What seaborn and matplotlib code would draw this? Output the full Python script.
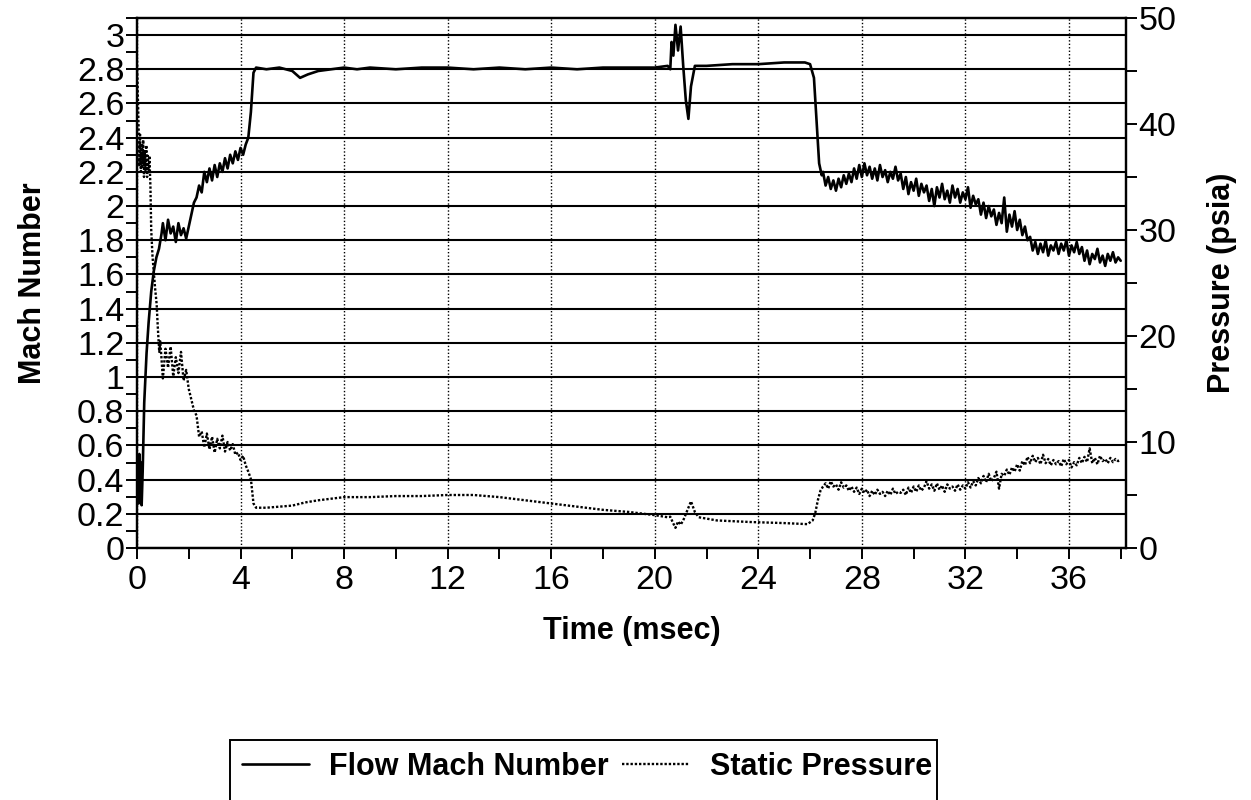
import numpy as np
import pandas as pd
import matplotlib
matplotlib.use("Agg")
import matplotlib.pyplot as plt
from matplotlib.ticker import MultipleLocator, FuncFormatter
from matplotlib.patches import Rectangle
import seaborn as sns

# ---------------- data ----------------
# Flow Mach number
mach_t_start = [0.0, 0.03, 0.06, 0.09, 0.12, 0.15, 0.18, 0.22, 0.28, 0.37,
                0.45, 0.55, 0.65, 0.75, 0.85, 0.95]
mach_v_start = [0.30, 0.52, 0.26, 0.55, 0.40, 0.50, 0.25, 0.45, 0.85, 1.14,
                1.32, 1.50, 1.62, 1.70, 1.75, 1.84]

mach_t_rise = [round(1.0 + 0.1 * i, 2) for i in range(33)]  # 1.0 .. 4.2 ms sampling
mach_v_rise = [1.90, 1.80, 1.92, 1.84, 1.88, 1.79, 1.90, 1.83, 1.87, 1.81,
               1.88, 1.95, 2.02, 2.05, 2.12, 2.08, 2.20, 2.14, 2.22, 2.15,
               2.24, 2.17, 2.25, 2.20, 2.28, 2.22, 2.30, 2.25, 2.32, 2.27,
               2.34, 2.30, 2.36]

mach_t_mid = [4.3, 4.4, 4.5, 4.6, 5.0, 5.5, 6.0, 6.3, 6.6, 7.0, 7.5, 8.0, 8.5,
              9.0, 10.0, 11.0, 12.0, 13.0, 14.0, 15.0, 16.0, 17.0, 18.0, 19.0,
              20.0, 20.5, 20.6, 20.65, 20.72, 20.8, 20.9, 21.0, 21.1, 21.2,
              21.3, 21.4, 21.55, 22.0, 23.0, 24.0, 25.0, 25.8, 26.0, 26.15,
              26.25, 26.35, 26.45]
mach_v_mid = [2.40, 2.55, 2.78, 2.81, 2.80, 2.81, 2.79, 2.75, 2.77, 2.79, 2.80,
              2.81, 2.80, 2.81, 2.80, 2.81, 2.81, 2.80, 2.81, 2.80, 2.81, 2.80,
              2.81, 2.81, 2.81, 2.82, 2.80, 2.96, 2.88, 3.06, 2.91, 3.05, 2.82,
              2.62, 2.51, 2.70, 2.82, 2.82, 2.83, 2.83, 2.84, 2.84, 2.83, 2.75,
              2.50, 2.25, 2.18]

mach_t_late = [round(26.5 + 0.1 * i, 2) for i in range(116)]  # 26.5 .. 38.0 ms sampling
mach_v_late = [2.20, 2.12, 2.17, 2.10, 2.15, 2.09, 2.16, 2.11, 2.18, 2.13,
               2.19, 2.14, 2.22, 2.16, 2.24, 2.17, 2.25, 2.18, 2.23, 2.16,
               2.22, 2.15, 2.24, 2.17, 2.21, 2.14, 2.20, 2.16, 2.23, 2.15,
               2.19, 2.10, 2.17, 2.07, 2.14, 2.09, 2.16, 2.06, 2.13, 2.08,
               2.12, 2.03, 2.10, 2.00, 2.11, 2.05, 2.13, 2.04, 2.09, 2.02,
               2.12, 2.05, 2.10, 2.02, 2.08, 2.04, 2.11, 1.99, 2.06, 2.01,
               2.04, 1.95, 2.02, 1.93, 2.00, 1.94, 1.98, 1.89, 1.96, 1.90,
               2.05, 1.85, 1.95, 1.88, 1.97, 1.86, 1.92, 1.83, 1.88, 1.80,
               1.82, 1.74, 1.79, 1.72, 1.78, 1.73, 1.80, 1.71, 1.77, 1.74,
               1.79, 1.72, 1.78, 1.74, 1.80, 1.71, 1.77, 1.73, 1.79, 1.72,
               1.76, 1.68, 1.74, 1.66, 1.72, 1.69, 1.75, 1.67, 1.71, 1.65,
               1.72, 1.68, 1.73, 1.67, 1.70, 1.68]

# Static pressure (psia)
pres_t_start = [0.0, 0.03, 0.06, 0.09, 0.12, 0.15, 0.18, 0.21, 0.24, 0.27,
                0.30, 0.33, 0.36, 0.39, 0.42, 0.45, 0.48, 0.52, 0.55, 0.60,
                0.65, 0.70, 0.76, 0.80, 0.86]
pres_v_start = [46.0, 43.0, 40.0, 36.0, 39.0, 35.5, 38.0, 36.0, 38.5, 35.0,
                37.5, 35.5, 38.0, 35.0, 37.0, 35.5, 37.0, 34.0, 30.0, 27.5,
                26.0, 24.5, 23.0, 21.0, 18.5]

pres_t_fall = [round(0.9 + 0.1 * i, 2) for i in range(35)]  # 0.9 .. 4.3 ms sampling
pres_v_fall = [19.5, 16.0, 18.8, 17.0, 19.0, 16.2, 18.0, 16.5, 18.5, 15.8,
               16.8, 15.0, 14.0, 13.0, 12.5, 10.5, 11.0, 9.5, 10.8, 9.3,
               10.5, 9.0, 10.3, 9.4, 10.6, 9.1, 10.0, 9.2, 9.8, 8.8,
               9.0, 8.3, 8.7, 7.8, 7.2]

pres_t_mid = [4.4, 4.5, 4.6, 5.0, 5.5, 6.0, 6.5, 7.0, 8.0, 9.0, 10.0, 11.0,
              12.0, 13.0, 14.0, 15.0, 16.0, 17.0, 18.0, 19.0, 20.0, 20.5,
              20.6, 20.7, 20.8, 20.9, 21.0, 21.1, 21.2, 21.4, 21.55, 21.7,
              22.4, 23.7, 25.0, 25.9, 26.1, 26.2, 26.3, 26.4, 26.5]
pres_v_mid = [6.5, 4.2, 3.8, 3.8, 3.9, 4.0, 4.3, 4.5, 4.8, 4.8, 4.9, 4.9,
              5.0, 5.0, 4.8, 4.5, 4.2, 3.9, 3.6, 3.4, 3.1, 2.9,
              2.95, 2.4, 1.9, 2.5, 2.2, 2.6, 3.2, 4.4, 3.4, 2.9,
              2.6, 2.45, 2.35, 2.25, 2.6, 3.3, 4.5, 5.4, 5.8]

pres_t_late = [round(26.6 + 0.1 * i, 2) for i in range(115)]  # 26.6 .. 38.0 ms sampling
pres_v_late = [6.1, 5.6, 6.3, 5.8, 6.0, 5.5, 6.2, 5.7, 5.9, 5.4,
               5.8, 5.3, 5.7, 5.1, 5.6, 5.2, 5.5, 4.9, 5.4, 5.0,
               5.5, 5.1, 5.3, 4.9, 5.4, 5.0, 5.6, 5.1, 5.3, 5.2,
               5.5, 5.0, 5.7, 5.2, 5.8, 5.3, 5.9, 5.4, 5.7, 6.3,
               5.6, 6.0, 5.4, 6.1, 5.5, 5.9, 5.3, 6.0, 5.6, 5.8,
               5.4, 6.0, 5.5, 5.9, 5.6, 6.2, 5.7, 6.3, 5.9, 6.6,
               6.1, 6.8, 6.2, 7.0, 6.3, 6.6, 7.2, 5.6, 7.0, 6.8,
               7.4, 6.9, 7.6, 7.2, 7.9, 7.3, 8.2, 7.8, 8.6, 8.0,
               8.7, 8.1, 8.5, 7.9, 8.8, 8.0, 8.4, 7.8, 8.3, 7.9,
               8.2, 7.7, 8.4, 7.9, 8.3, 7.6, 8.1, 7.8, 8.5, 8.0,
               8.6, 8.1, 9.4, 8.0, 8.5, 7.9, 8.7, 8.2, 8.4, 8.0,
               8.5, 8.1, 8.4, 8.2, 8.3]

mach_ticks = [0, 0.2, 0.4, 0.6, 0.8, 1, 1.2, 1.4, 1.6, 1.8, 2, 2.2, 2.4, 2.6, 2.8, 3]
pres_ticks = [0, 10, 20, 30, 40, 50]
time_ticks = [0, 4, 8, 12, 16, 20, 24, 28, 32, 36]

mach_df = pd.DataFrame({
    "t": mach_t_start + mach_t_rise + mach_t_mid + mach_t_late,
    "v": mach_v_start + mach_v_rise + mach_v_mid + mach_v_late})
pres_df = pd.DataFrame({
    "t": pres_t_start + pres_t_fall + pres_t_mid + pres_t_late,
    "v": pres_v_start + pres_v_fall + pres_v_mid + pres_v_late})

# ---------------- plotting ----------------
sns.set_theme(style="white")
plt.rcParams["font.family"] = ["Liberation Sans", "DejaVu Sans"]
plt.rcParams["text.color"] = "black"
plt.rcParams["axes.labelcolor"] = "black"

fig = plt.figure(figsize=(12.51, 8), dpi=100)
ax = fig.add_axes([0.1095, 0.315, 0.7905, 0.6625])
ax2 = ax.twinx()

sns.lineplot(data=mach_df, x="t", y="v", ax=ax, color="black", lw=1.9,
             sort=False, estimator=None, label="Flow Mach Number", legend=False)
sns.lineplot(data=pres_df, x="t", y="v", ax=ax2, color="black", lw=1.7,
             sort=False, estimator=None, label="Static Pressure", legend=False)
ax2.lines[0].set_linestyle((0, (1, 0.8)))

ax.set_xlim(0, 38.2)
ax.set_ylim(0, 3.1)
ax2.set_ylim(0, 50)

ax.set_xticks(time_ticks)
ax.xaxis.set_minor_locator(MultipleLocator(2))
ax.set_yticks(mach_ticks)
ax.yaxis.set_minor_locator(MultipleLocator(0.1))
ax.yaxis.set_major_formatter(FuncFormatter(lambda v, p: f"{v:g}"))
ax2.set_yticks(pres_ticks)
ax2.yaxis.set_minor_locator(MultipleLocator(5))

for a in (ax, ax2):
    for s in a.spines.values():
        s.set_color("black")
        s.set_linewidth(1.6)
ax.tick_params(axis="both", which="both", direction="out", length=8, width=1.4,
               color="black", labelsize=24.5, labelcolor="black")
ax.tick_params(axis="y", which="both", left=True, pad=1)
ax.tick_params(axis="x", which="both", bottom=True, pad=4)
ax2.tick_params(axis="y", which="both", right=True, direction="out", length=8,
                width=1.4, color="black", labelsize=24.5, labelcolor="black", pad=1)

ax.grid(False)
ax2.grid(False)
for yv in mach_ticks:
    ax.axhline(yv, color="black", lw=1.5, zorder=0.5)
ax.xaxis.grid(True, which="major", color="black", lw=1.0, ls=(0, (1, 1.5)))

ax.set_xlabel("Time (msec)", fontsize=22, fontweight="bold", labelpad=15,
              color="black")
ax.set_ylabel("Mach Number", fontsize=22, fontweight="bold", labelpad=21,
              color="black")
ax2.set_ylabel("Pressure (psia)", fontsize=22, fontweight="bold", labelpad=22,
               color="black")

handles = ax.get_lines()[:1] + ax2.get_lines()[:1]
leg = fig.legend(handles, ["Flow Mach Number", "Static Pressure"],
                 loc="upper left", bbox_to_anchor=(0.1839, 0.075), ncol=2,
                 prop={"weight": "bold", "size": 22}, frameon=False,
                 handlelength=2.2, handletextpad=0.65,
                 columnspacing=0.46, borderpad=0.38, borderaxespad=0)
for txt in leg.get_texts():
    txt.set_color("black")
# legend frame, running off the bottom edge of the page as in the original
fig.add_artist(Rectangle((0.1839, -0.05), 0.5652, 0.125, transform=fig.transFigure,
                         fill=False, edgecolor="black", lw=1.4, clip_on=False))

fig.savefig("out.png", dpi=100, facecolor="white")
